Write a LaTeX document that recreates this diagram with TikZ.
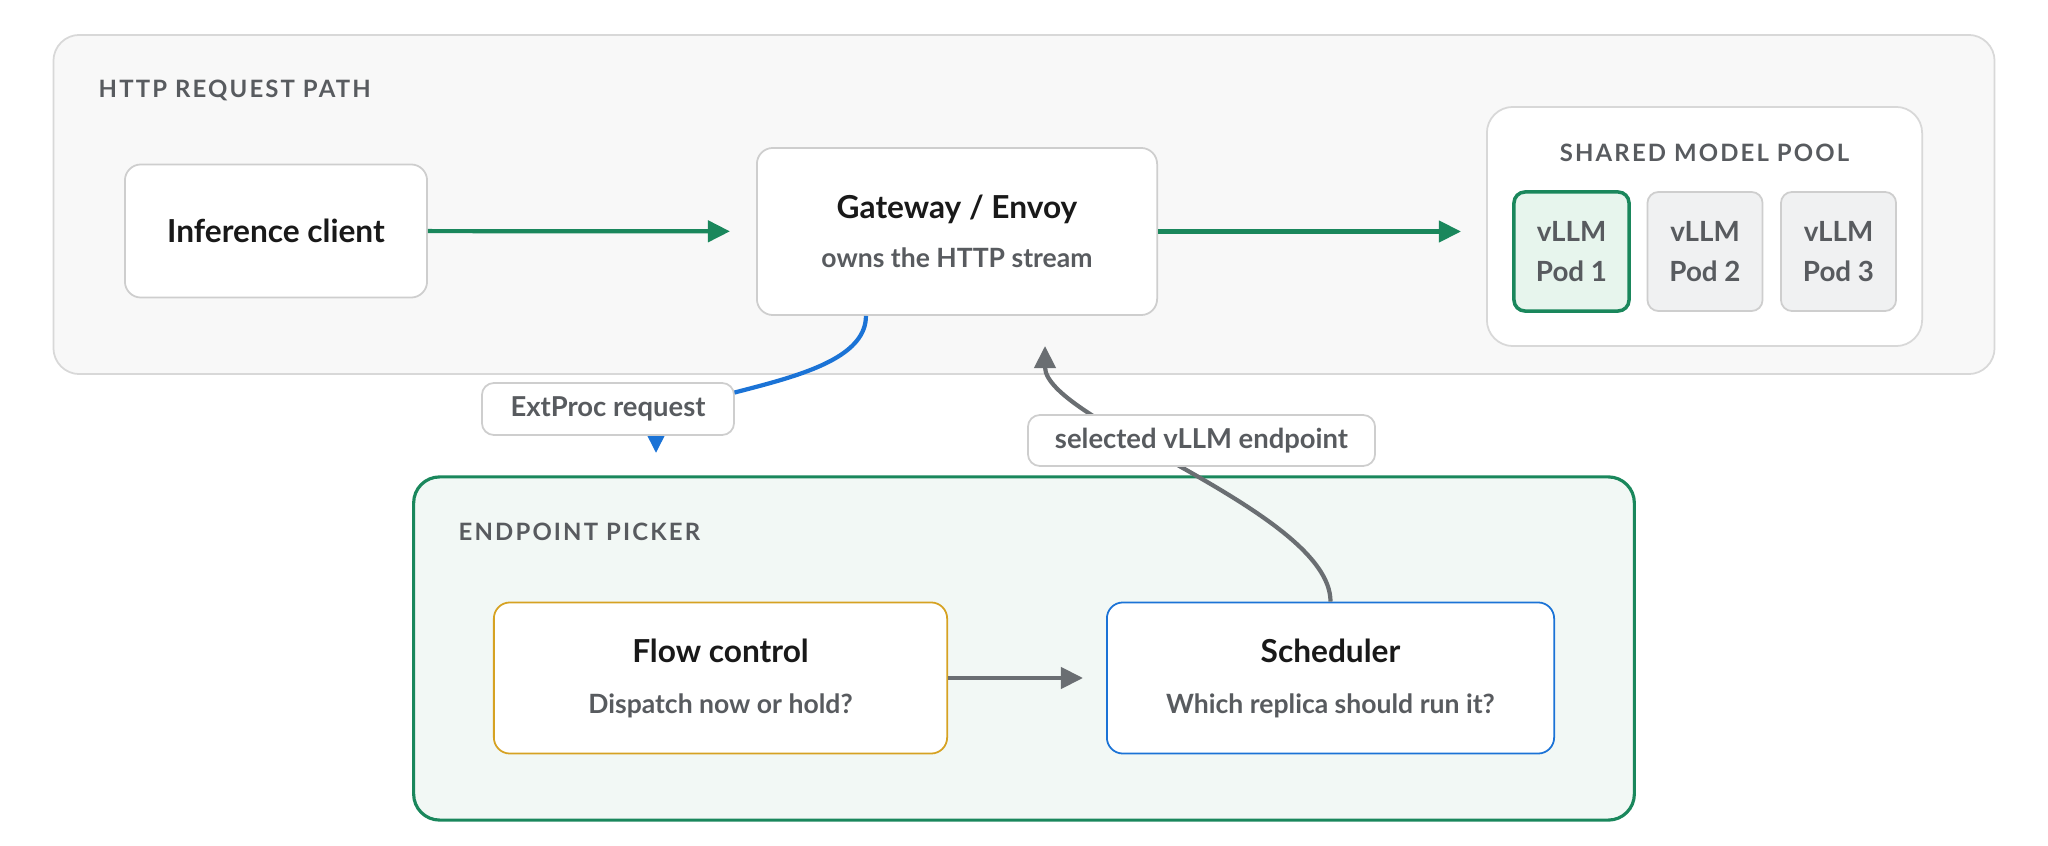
\documentclass[tikz,border=0pt]{standalone}
\usepackage{fontspec}
\setmainfont{Lato}
\newfontfamily\capsfont{Lato}[LetterSpace=9]
\usetikzlibrary{arrows.meta}

\definecolor{pathfill}{RGB}{248,248,248}
\definecolor{pathline}{RGB}{216,216,216}
\definecolor{boxline}{RGB}{206,206,206}
\definecolor{okgreen}{RGB}{26,135,92}
\definecolor{greenfill}{RGB}{231,245,237}
\definecolor{pickerfill}{RGB}{242,248,245}
\definecolor{podfill}{RGB}{240,241,242}
\definecolor{epblue}{RGB}{27,115,214}
\definecolor{flowgold}{RGB}{214,162,34}
\definecolor{arrowgrey}{RGB}{106,110,114}
\definecolor{textgrey}{RGB}{88,91,95}

\newcommand{\subline}[1]{{\fontsize{7.55}{9}\selectfont\color{textgrey}#1}}

\begin{document}
\begin{tikzpicture}[x=0.01cm, y=-0.01cm,
  group/.style={draw=pathline, line width=0.5pt, rounded corners=0.26cm},
  grouptitle/.style={text=textgrey, font=\capsfont\bfseries\fontsize{6.8}{8}\selectfont, inner sep=0pt},
  box/.style={draw=boxline, fill=white, line width=0.5pt, rounded corners=0.16cm,
    align=center, font=\bfseries\fontsize{9}{11}\selectfont, text=black!90},
  pod/.style={draw=boxline, fill=podfill, line width=0.5pt, rounded corners=0.11cm,
    minimum width=1.15cm, minimum height=1.19cm, align=center,
    font=\bfseries\fontsize{7.9}{11.6}\selectfont, text=textgrey},
  tag/.style={draw=boxline, fill=white, line width=0.5pt, rounded corners=0.12cm,
    font=\bfseries\fontsize{7.8}{9}\selectfont, text=textgrey},
  link/.style={line width=1.2pt, -{Triangle[length=0.22cm, width=0.21cm]}}]

\useasboundingbox (0,0) rectangle (2048,846);

% HTTP request path
\node[group, fill=pathfill, minimum width=19.40cm, minimum height=3.39cm] (path) at (1024,204.5) {};
\node[grouptitle, anchor=west] (pathtitle) at (98,90) {HTTP REQUEST PATH};

\node[box, minimum width=3.02cm, minimum height=1.33cm] (client) at (276,231) {Inference client};
\node[box, minimum width=4.00cm, minimum height=1.67cm] (gateway) at (957,231.5)
  {Gateway / Envoy\\[3pt]\subline{owns the HTTP stream}};

\node[group, fill=white, minimum width=4.35cm, minimum height=2.39cm] (pool) at (1704.5,226.5) {};
\node[grouptitle] (pooltitle) at (1704.5,153) {SHARED MODEL POOL};
\node[pod, draw=okgreen, fill=greenfill, line width=1pt] (pod1) at (1571.5,251.5) {vLLM\\Pod 1};
\node[pod] (pod2) at (1705,251.5) {vLLM\\Pod 2};
\node[pod] (pod3) at (1838.5,251.5) {vLLM\\Pod 3};

% endpoint picker
\node[group, draw=okgreen, fill=pickerfill, line width=0.9pt, minimum width=12.20cm, minimum height=3.43cm] (picker) at (1024,648.5) {};
\node[grouptitle, anchor=west] (pickertitle) at (458,532) {ENDPOINT PICKER};

\node[box, draw=flowgold, minimum width=4.53cm, minimum height=1.51cm] (flowctl) at (720.5,678)
  {Flow control\\[3.5pt]\subline{Dispatch now or hold?}};
\node[box, draw=epblue, minimum width=4.47cm, minimum height=1.51cm] (sched) at (1330.5,678)
  {Scheduler\\[3.5pt]\subline{Which replica should run it?}};

\coordinate (extin) at (656,453);
\coordinate (selin) at (1045,346);

% connectors
\draw[link, okgreen, shorten >=0.26cm] (client) -- (gateway);
\draw[link, okgreen, shorten >=0.25cm] (gateway.east) -- (gateway.east -| pool.west);
\draw[link, arrowgrey, shorten >=0.23cm] (flowctl) -- (sched);
\draw[link, epblue] ([xshift=-0.91cm]gateway.south) .. controls +(0,75) and +(0,-65) .. (extin);
\draw[link, arrowgrey] (sched.north) .. controls +(0,-90) and +(0,75) .. (selin);

\node[tag, minimum width=2.52cm, minimum height=0.52cm] (extproc) at (608,409) {ExtProc request};
\node[tag, minimum width=3.47cm, minimum height=0.51cm] (selected) at (1201.5,440.5) {selected vLLM endpoint};

\end{tikzpicture}
\end{document}
